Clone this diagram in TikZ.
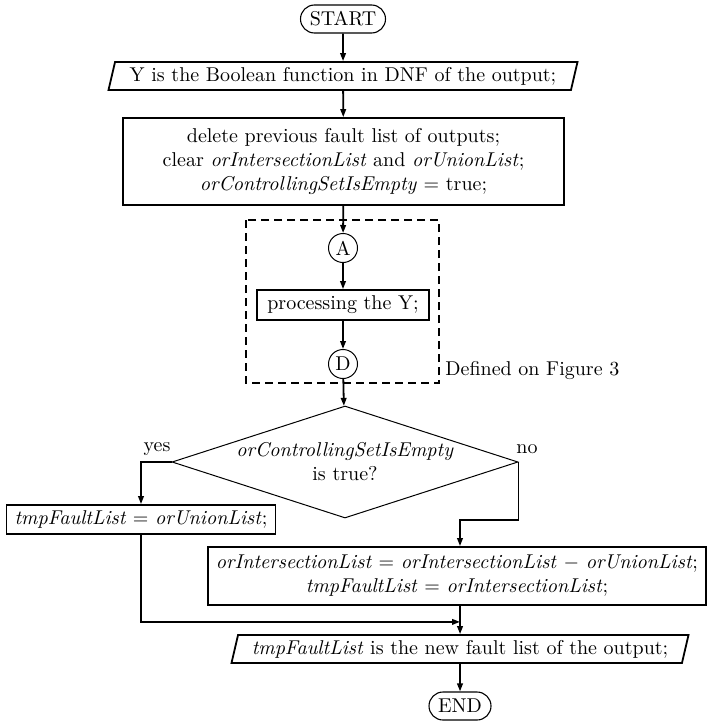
\documentclass[tikz,border=0pt]{standalone}
\usetikzlibrary{shapes.geometric,shapes.misc,arrows.meta}
\newcommand{\vn}[1]{\textit{#1}}
\begin{document}
\begin{tikzpicture}[x=0.5pt,y=-0.5pt,
  arr/.style={draw, line width=0.9pt, -{Triangle[length=4pt,width=2.8pt]}},
  term/.style={rounded rectangle, draw, line width=0.55pt, inner sep=0pt, minimum height=14pt},
  iobox/.style={trapezium, trapezium left angle=70, trapezium right angle=110, draw, line width=0.9pt, inner sep=0pt, minimum height=14pt, trapezium stretches body},
  procbox/.style={rectangle, draw, line width=0.9pt, align=center, inner sep=0pt},
  joint/.style={circle, draw, line width=0.5pt, inner sep=0pt, minimum size=14.5pt},
  decbox/.style={diamond, draw, line width=0.5pt, aspect=3.1, inner sep=0pt, align=center},
  lab/.style={inner sep=0pt},
  region/.style={draw, line width=0.9pt, dash pattern=on 4pt off 2.5pt}
]
\useasboundingbox (0,0) rectangle (710,722);
\node[term, minimum width=42.5pt] (start) at (343,19) {START};
\node[iobox, minimum width=234.5pt] (in1) at (343,76) {Y is the Boolean function in DNF of the output;};
\node[procbox, minimum width=220.5pt, minimum height=43.5pt] (init) at (343.5,161.5)
  {delete previous fault list of outputs;\\ clear \vn{orIntersectionList} and \vn{orUnionList};\\ \vn{orControllingSetIsEmpty} $=$ true;};
\draw[region] (246,220) rectangle (439,383);
\node[joint] (A) at (343,248) {A};
\node[procbox, minimum width=86pt, minimum height=15pt] (pY) at (343,305) {processing the Y;};
\node[joint] (D) at (343,364) {D};
\node[lab, anchor=west] (def) at (445,371) {Defined on Figure 3};
\node[decbox, minimum width=173pt, minimum height=56pt] (cond) at (345,462) {\vn{orControllingSetIsEmpty}\\ is true?};
\node[lab] (yes) at (157,449) {yes};
\node[lab] (no) at (527,449) {no};
\node[procbox, minimum height=14.5pt, inner xsep=4pt] (tf1) at (141,519.5) {\vn{tmpFaultList} $=$ \vn{orUnionList};};
\node[procbox, minimum height=29pt, inner xsep=4pt] (tf2) at (457,576)
  {\vn{orIntersectionList} $=$ \vn{orIntersectionList} $-$ \vn{orUnionList};\\ \vn{tmpFaultList} $=$ \vn{orIntersectionList};};
\node[iobox, minimum width=228.5pt] (out) at (460,649) {\vn{tmpFaultList} is the new fault list of the output;};
\node[term, minimum width=31pt] (end) at (460,706) {END};
\draw[arr] (start) -- (in1);
\draw[arr] (in1) -- (init);
\draw[arr] (init) -- (A);
\draw[arr] (A) -- (pY);
\draw[arr] (pY) -- (D);
\draw[arr] (D) -- (cond);
\draw[arr] (cond.west) -| (tf1.north);
\coordinate (nobend) at ([yshift=-29pt]cond.east);
\draw[arr] (cond.east) -- (nobend) -| ([xshift=1.5pt]tf2.north);
\path ([xshift=1.5pt]tf2.south) ++(0,16) coordinate (merge);
\draw[arr] (tf1.south) |- (merge);
\draw[arr] ([xshift=1.5pt]tf2.south) -- (out.north);
\draw[arr] (out) -- (end);
\end{tikzpicture}
\end{document}
